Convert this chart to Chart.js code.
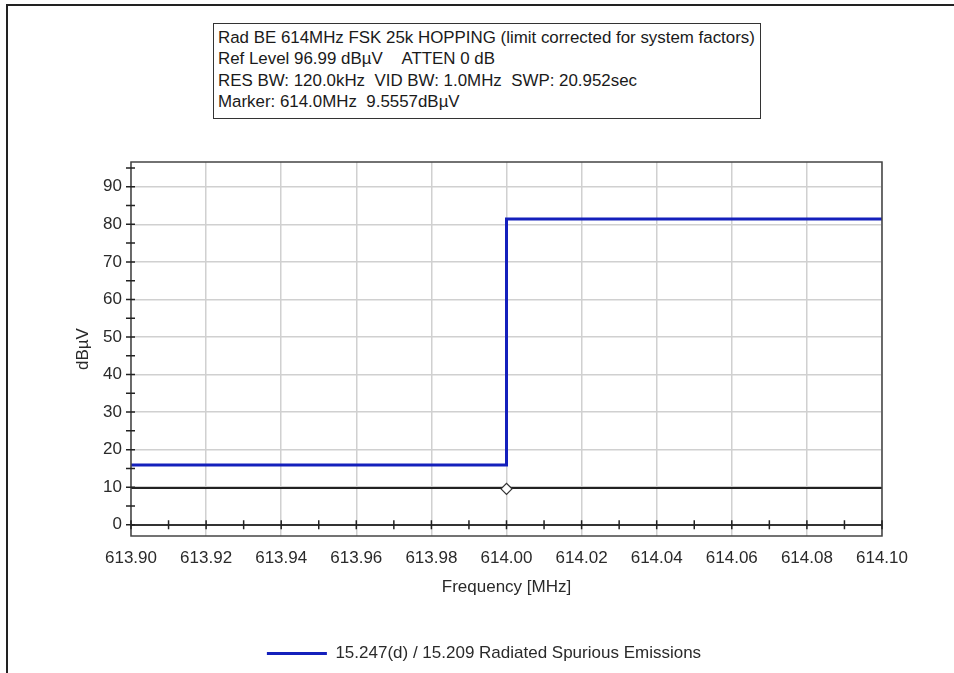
<!DOCTYPE html>
<html>
<head>
<meta charset="utf-8">
<script src="https://cdn.jsdelivr.net/npm/chart.js@4"></script>
<style>
  body { margin: 0; background: #fff; }
  #wrap { position: relative; width: 954px; height: 673px; }
  #frame { position: absolute; left: 6px; top: 4px; right: 0; bottom: 0;
           border-top: 2px solid #222; border-left: 2px solid #222; }
  #info { position: absolute; left: 213px; top: 23px; width: 542px; height: 91px;
          border: 1.5px solid #333; padding: 3px 0 0 4px; background: #fff;
          font: 16.9px "Liberation Sans", Arial, sans-serif; line-height: 21.3px; color: #1a1a1a;
          white-space: nowrap; overflow: hidden; }
  canvas { position: absolute; left: 0; top: 0; }
</style>
</head>
<body>
<div id="wrap">
  <canvas id="mychart" width="954" height="673"></canvas>
  <div id="frame"></div>
  <div id="info">
    <div>Rad BE 614MHz FSK 25k HOPPING (limit corrected for system factors)</div>
    <div>Ref Level 96.99 dBµV&nbsp;&nbsp;&nbsp;&nbsp;ATTEN 0 dB</div>
    <div>RES BW: 120.0kHz&nbsp;&nbsp;VID BW: 1.0MHz&nbsp;&nbsp;SWP: 20.952sec</div>
    <div>Marker: 614.0MHz&nbsp;&nbsp;9.5557dBµV</div>
  </div>
</div>
<script>
// limit line (step at 614 MHz)
const limitFreq = [613.90, 614.00, 614.00, 614.10];
const limitLevel = [15.9, 15.9, 81.4, 81.4];
// measured trace
const traceFreq = [613.90, 614.10];
const traceLevel = [9.8, 9.8];
// marker
const markerFreq = [614.00];
const markerLevel = [9.5557];

const xTickValues = [613.90, 613.91, 613.92, 613.93, 613.94, 613.95, 613.96, 613.97, 613.98, 613.99,
  614.00, 614.01, 614.02, 614.03, 614.04, 614.05, 614.06, 614.07, 614.08, 614.09, 614.10];
const yTickValues = [0, 5, 10, 15, 20, 25, 30, 35, 40, 45, 50, 55, 60, 65, 70, 75, 80, 85, 90, 95];

const legendLabel = "15.247(d) / 15.209 Radiated Spurious Emissions";
const font = "'Liberation Sans', Arial, sans-serif";
const fontSize = 17;
const textColor = "#2a2a2a";
const gridGray = "#d0d0d0";

const pts = (xs, ys) => xs.map((x, i) => ({x: x, y: ys[i]}));

// plot frame + tick marks crossing the axes
const frameTicks = {
  id: "frameTicks",
  afterDraw(chart) {
    const {ctx, chartArea: a, scales} = chart;
    ctx.save();
    ctx.strokeStyle = "#444";
    ctx.lineWidth = 1.5;
    ctx.strokeRect(a.left, a.top, a.right - a.left, a.bottom - a.top);
    ctx.strokeStyle = "#222";
    ctx.lineWidth = 1.5;
    ctx.beginPath();
    yTickValues.forEach(v => {
      const y = scales.y.getPixelForValue(v);
      ctx.moveTo(a.left - 5, y);
      ctx.lineTo(a.left + 4, y);
    });
    const y0 = scales.y.getPixelForValue(0);
    xTickValues.forEach(v => {
      const x = scales.x.getPixelForValue(v);
      ctx.moveTo(x, y0 - 4.5);
      ctx.lineTo(x, y0 + 4.5);
    });
    ctx.stroke();
    ctx.restore();
  }
};

new Chart(document.getElementById("mychart"), {
  type: "scatter",
  data: {
    datasets: [
      {
        label: "Marker",
        data: pts(markerFreq, markerLevel),
        pointStyle: "rectRot",
        pointRadius: 5.5,
        backgroundColor: "#fff",
        borderColor: "#333",
        borderWidth: 1.3,
        showLine: false
      },
      {
        label: legendLabel,
        data: pts(limitFreq, limitLevel),
        showLine: true,
        borderColor: "#1420bc",
        backgroundColor: "#1420bc",
        borderWidth: 3,
        pointRadius: 0
      },
      {
        label: "Trace",
        data: pts(traceFreq, traceLevel),
        showLine: true,
        borderColor: "#222",
        borderWidth: 2,
        pointRadius: 0
      }
    ]
  },
  options: {
    responsive: false,
    animation: false,
    devicePixelRatio: 1,
    layout: { padding: { left: 14, right: 0, top: 162, bottom: 1 } },
    plugins: {
      tooltip: { enabled: false },
      legend: {
        position: "bottom",
        labels: {
          filter: item => item.text === legendLabel,
          usePointStyle: true,
          pointStyle: "line",
          pointStyleWidth: 60,
          color: textColor,
          font: { family: font, size: fontSize },
          padding: 10
        }
      }
    },
    scales: {
      x: {
        type: "linear",
        min: 613.90,
        max: 614.10,
        afterBuildTicks: s => { s.ticks = xTickValues.map(v => ({value: v})); },
        afterFit: s => { s.height = 99; },
        ticks: {
          autoSkip: false,
          maxRotation: 0,
          padding: 12,
          color: textColor,
          font: { family: font, size: fontSize },
          callback: (v, i) => i % 2 === 0 ? Number(v).toFixed(2) : ""
        },
        grid: {
          drawTicks: false,
          color: c => (c.index % 2 === 0 ? gridGray : "transparent"),
          lineWidth: 1.5
        },
        border: { display: false },
        title: {
          display: true,
          text: "Frequency [MHz]",
          color: textColor,
          font: { family: font, size: fontSize },
          padding: { top: 0, bottom: 37 }
        }
      },
      y: {
        type: "linear",
        position: "left",
        min: -3,
        max: 96.6,
        afterBuildTicks: s => { s.ticks = yTickValues.map(v => ({value: v})); },
        afterFit: s => { s.width = 117; },
        ticks: {
          autoSkip: false,
          padding: 9,
          color: textColor,
          font: { family: font, size: fontSize },
          callback: v => (v % 10 === 0 ? String(v) : "")
        },
        grid: {
          drawTicks: false,
          color: c => (c.tick.value === 0 ? "#333" : c.tick.value % 10 === 0 ? gridGray : "transparent"),
          lineWidth: c => (c.tick.value === 0 ? 2 : 1.5)
        },
        border: { display: false },
        title: {
          display: true,
          text: "dBµV",
          color: textColor,
          font: { family: font, size: fontSize },
          padding: { top: 59, bottom: 0 }
        }
      },
      y2: {
        type: "linear",
        position: "right",
        afterFit: s => { s.width = 72; },
        ticks: { display: false },
        grid: { display: false },
        border: { display: false }
      }
    }
  },
  plugins: [frameTicks]
});
</script>
</body>
</html>
